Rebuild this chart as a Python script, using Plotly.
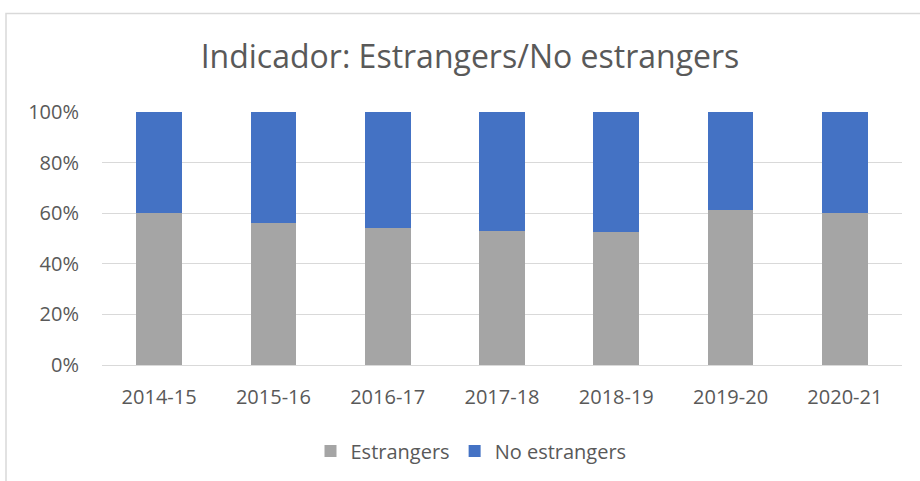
import plotly.graph_objects as go

categories = ["2014-15", "2015-16", "2016-17", "2017-18", "2018-19", "2019-20", "2020-21"]
estrangers = [60.0, 56.0, 54.3, 52.8, 52.5, 61.1, 60.0]
no_estrangers = [100 - v for v in estrangers]
y_ticks = [0, 20, 40, 60, 80, 100]
y_tick_labels = ["0%", "20%", "40%", "60%", "80%", "100%"]

FONT = "Open Sans"
TXT = "#595959"

fig = go.Figure()
fig.add_bar(x=categories, y=estrangers, name="Estrangers", marker=dict(color="#A5A5A5", line=dict(width=0)))
fig.add_bar(x=categories, y=no_estrangers, name="No estrangers", marker=dict(color="#4472C4", line=dict(width=0)))

W, H = 920, 481
L, R, T, B = 102, 18, 112, 115
pw, ph = W - L - R, H - T - B

def px_x(p):
    return (p - L) / pw

def px_y(p):
    return (H - B - p) / ph

fig.update_layout(
    width=W, height=H,
    barmode="stack", bargap=0.6,
    margin=dict(l=L, r=R, t=T, b=B),
    paper_bgcolor="white", plot_bgcolor="white",
    font=dict(family=FONT, color=TXT, size=20),
    title=dict(text="Indicador: Estrangers/No estrangers", x=px_x(470), xanchor="center",
               xref="paper", y=1 - 57 / H, yanchor="middle",
               font=dict(size=32, color=TXT, family=FONT)),
    legend=dict(orientation="h", x=px_x(471), xanchor="center", y=px_y(451), yanchor="middle",
                font=dict(size=20, color=TXT), itemwidth=30, traceorder="normal"),
    xaxis=dict(showgrid=False, showline=True, linecolor="#D9D9D9", linewidth=1,
               tickfont=dict(size=20, color=TXT), ticks="", ticklabelstandoff=14),
    yaxis=dict(range=[0, 100], tickvals=y_ticks, ticktext=y_tick_labels, showgrid=True,
               gridcolor="#D9D9D9", gridwidth=1, zeroline=False, showline=False,
               tickfont=dict(size=20, color=TXT), ticks="", ticklabelstandoff=22),
    shapes=[dict(type="rect", xref="paper", yref="paper",
                 x0=px_x(6), x1=px_x(930), y0=px_y(495), y1=px_y(13),
                 line=dict(color="#D9D9D9", width=1.5), fillcolor="rgba(0,0,0,0)", layer="below")],
    showlegend=True,
)

fig.write_html("out.html", config={"displayModeBar": False},
               post_script="document.body.style.margin='0';document.body.style.overflow='hidden';")
